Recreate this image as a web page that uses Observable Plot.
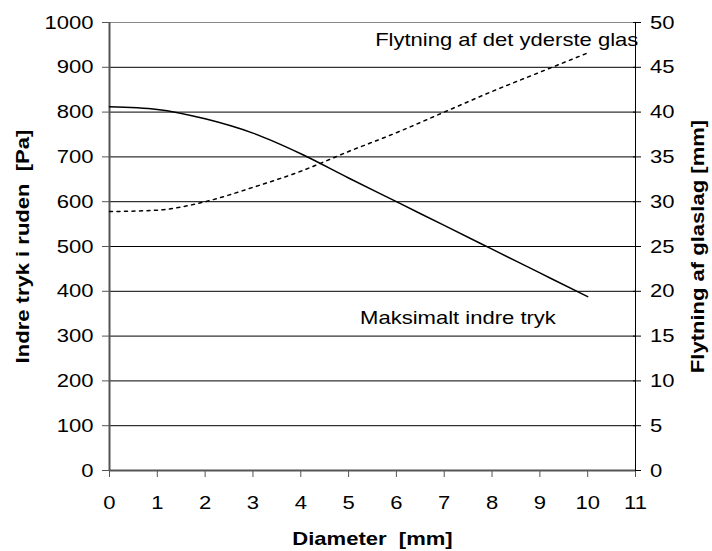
<!DOCTYPE html>
<html>
<head>
<meta charset="utf-8">
<script src="https://cdn.jsdelivr.net/npm/d3@7"></script>
<script src="https://cdn.jsdelivr.net/npm/@observablehq/plot@0.6"></script>
<style>
  html, body { margin: 0; padding: 0; background: #fff; }
</style>
</head>
<body>
<div id="chart"></div>
<script>
// Data
const diameter = [0, 1, 2, 3, 4, 5, 6, 7, 8, 9, 10];                               // mm
const pressure = [812, 806, 785, 753, 707, 653, 600, 547, 494, 441, 388];           // Pa (left axis)
const displacement = [28.9, 29.05, 30.0, 31.6, 33.4, 35.6, 37.7, 40.0, 42.3, 44.45, 46.6]; // mm (right axis)

const xTicks = [0, 1, 2, 3, 4, 5, 6, 7, 8, 9, 10, 11];
const yTicksLeft = [0, 100, 200, 300, 400, 500, 600, 700, 800, 900, 1000];
const yTicksRight = [0, 5, 10, 15, 20, 25, 30, 35, 40, 45, 50];

const seriesLabels = ["Flytning af det yderste glas", "Maksimalt indre tryk"];
const seriesLabelX = [5.555, 5.24];
const seriesLabelY = [962, 341];

const xTitle = "Diameter\u00a0 [mm]";
const yLeftTitle = "Indre tryk i ruden\u00a0 [Pa]";
const yRightTitle = "Flytning af glaslag [mm]";

// right axis maps onto the left scale
const ratio = yTicksLeft[yTicksLeft.length - 1] / yTicksRight[yTicksRight.length - 1];

const pressureData = diameter.map((d, i) => ({x: d, y: pressure[i]}));
const dispData = diameter.map((d, i) => ({x: d, y: displacement[i] * ratio}));
const labelData = seriesLabels.map((t, i) => ({text: t, x: seriesLabelX[i], y: seriesLabelY[i]}));
const rightTickData = yTicksRight.map(d => d * ratio);

const chart = Plot.plot({
  width: 712,
  height: 551,
  marginLeft: 109,
  marginRight: 77,
  marginTop: 22,
  marginBottom: 81,
  x: {domain: [0, 11]},
  y: {domain: [0, 1000]},
  style: {
    fontFamily: "'Liberation Sans', Arial, sans-serif",
    fontSize: "19px",
    color: "#000",
    background: "#fff"
  },
  marks: [
    Plot.ruleY(yTicksLeft.slice(1, -1), {stroke: "#000", strokeWidth: 1}),
    Plot.ruleY([yTicksLeft[yTicksLeft.length - 1]], {stroke: "#8a8a8a", strokeWidth: 1}),
    Plot.ruleX([xTicks[xTicks.length - 1]], {stroke: "#000", strokeWidth: 1}),
    Plot.axisX(xTicks, {anchor: "bottom", tickSize: 7, tickPadding: 18, stroke: "#555", fill: "#000",
      tickFormat: d => String(d), label: null}),
    Plot.axisY(yTicksLeft, {anchor: "left", tickSize: 7, tickPadding: 9, stroke: "#555", fill: "#000",
      tickFormat: d => String(d), label: null}),
    Plot.axisY(rightTickData, {anchor: "right", tickSize: 8, dx: -3, tickPadding: 9.5, stroke: "#000", fill: "#000",
      tickFormat: d => String(Math.round(d / ratio)), label: null}),
    Plot.ruleX([0], {stroke: "#555", strokeWidth: 2}),
    Plot.ruleY([0], {stroke: "#555", strokeWidth: 2}),
    Plot.line(dispData, {x: "x", y: "y", curve: "monotone-x", stroke: "#000", strokeWidth: 1.5, strokeDasharray: "3,4.5"}),
    Plot.line(pressureData, {x: "x", y: "y", curve: "monotone-x", stroke: "#000", strokeWidth: 1.5}),
    Plot.text(labelData, {x: "x", y: "y", text: "text", textAnchor: "start", lineAnchor: "middle", fill: "#000"}),
    Plot.text([xTitle], {text: d => d, frameAnchor: "bottom", dy: 68.5, textAnchor: "middle", lineAnchor: "middle", fontWeight: "bold", fill: "#000"}),
    Plot.text([yLeftTitle], {text: d => d, frameAnchor: "left", dx: -86.5, rotate: -90, textAnchor: "middle", lineAnchor: "middle", fontWeight: "bold", fill: "#000"}),
    Plot.text([yRightTitle], {text: d => d, frameAnchor: "right", dx: 62, rotate: -90, textAnchor: "middle", lineAnchor: "middle", fontWeight: "bold", fill: "#000"})
  ]
});

// The reference's lettering is horizontally stretched; widen each text along its baseline,
// keeping its anchor point fixed.
const svgRoot = chart.tagName.toLowerCase() === "svg" ? chart : chart.querySelector("svg");
chart.querySelectorAll("text").forEach(t => {
  const x = parseFloat(t.getAttribute("x")) || 0;
  const y = parseFloat(t.getAttribute("y")) || 0;
  const list = t.transform.baseVal;
  const m = svgRoot.createSVGMatrix().translate(x, y).scaleNonUniform(1.16, 1).translate(-x, -y);
  list.appendItem(list.createSVGTransformFromMatrix(m));
});

document.getElementById("chart").appendChild(chart);
</script>
</body>
</html>
